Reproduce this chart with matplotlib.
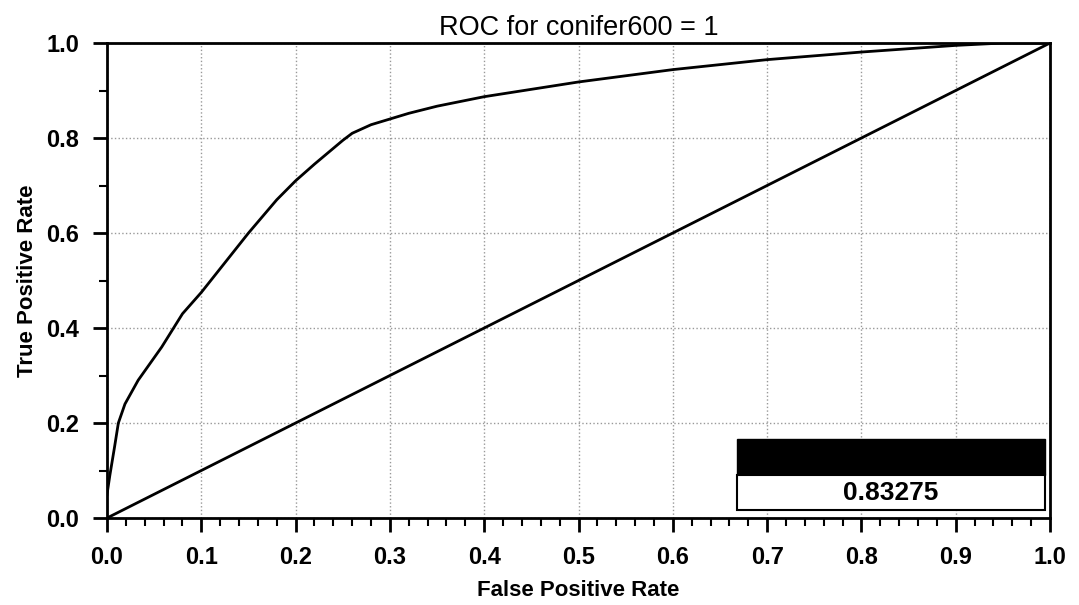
import numpy as np
import matplotlib
matplotlib.use('Agg')
import matplotlib.pyplot as plt
from matplotlib.ticker import MultipleLocator, FormatStrFormatter
from matplotlib.patches import Rectangle

# ROC curve
fpr = [0.0, 0.003, 0.008, 0.012, 0.019, 0.033, 0.058, 0.08, 0.10, 0.15, 0.18,
       0.20, 0.22, 0.25, 0.26, 0.28, 0.30, 0.32, 0.35, 0.40, 0.50, 0.60, 0.70,
       0.80, 0.90, 0.95, 1.0]
tpr = [0.05, 0.09, 0.15, 0.20, 0.24, 0.29, 0.36, 0.43, 0.475, 0.60, 0.67,
       0.71, 0.745, 0.795, 0.81, 0.828, 0.84, 0.852, 0.867, 0.887, 0.918,
       0.944, 0.965, 0.981, 0.995, 1.0, 1.0]
chance = [0.0, 1.0]
auc_text = '0.83275'
title = 'ROC for conifer600 = 1'

plt.rcParams['font.family'] = ['Liberation Sans', 'DejaVu Sans']

fig = plt.figure(figsize=(10.79, 6.05), dpi=100)
ax = fig.add_axes([0.0992, 0.1438, 0.8739, 0.7851])

ax.plot(fpr, tpr, color='black', linewidth=2)
ax.plot(chance, chance, color='black', linewidth=2)

ax.set_xlim(0, 1)
ax.set_ylim(0, 1)
ax.xaxis.set_major_locator(MultipleLocator(0.1))
ax.xaxis.set_minor_locator(MultipleLocator(0.02))
ax.yaxis.set_major_locator(MultipleLocator(0.2))
ax.yaxis.set_minor_locator(MultipleLocator(0.1))
ax.xaxis.set_major_formatter(FormatStrFormatter('%.1f'))
ax.yaxis.set_major_formatter(FormatStrFormatter('%.1f'))

ax.grid(True, which='major', linestyle=':', color='#999999', linewidth=1)
ax.tick_params(which='major', direction='out', length=10, width=2, pad=10,
               labelsize=17)
ax.tick_params(which='minor', direction='out', length=6, width=1.5)
for lab in ax.get_xticklabels() + ax.get_yticklabels():
    lab.set_fontweight('bold')
for sp in ax.spines.values():
    sp.set_linewidth(2)

ax.set_title(title, fontsize=19.5, pad=6)
ax.set_xlabel('False Positive Rate', fontsize=16, fontweight='bold', labelpad=8)
ax.set_ylabel('True Positive Rate', fontsize=16, fontweight='bold', labelpad=6)

# AUC box, lower right
ax.add_patch(Rectangle((0.668, 0.09), 0.327, 0.076, transform=ax.transAxes,
                       facecolor='black', edgecolor='black', zorder=5))
ax.add_patch(Rectangle((0.668, 0.017), 0.327, 0.073, transform=ax.transAxes,
                       facecolor='white', edgecolor='black', linewidth=1.5,
                       zorder=5))
ax.text(0.8315, 0.053, auc_text, transform=ax.transAxes, ha='center',
        va='center', fontsize=19, fontweight='bold', zorder=6)

fig.savefig('out.png', dpi=100)
